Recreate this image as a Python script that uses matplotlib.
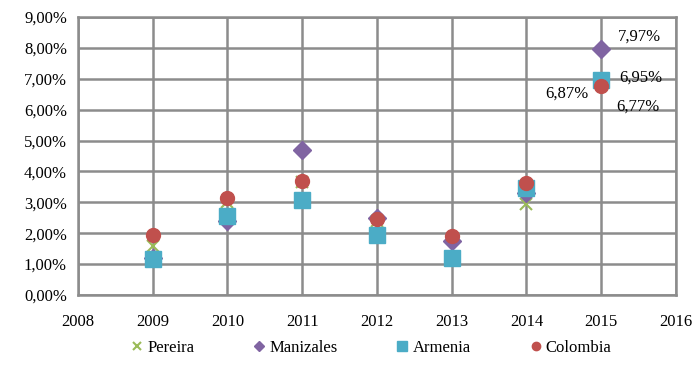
import matplotlib
matplotlib.use("Agg")
import matplotlib.pyplot as plt
from matplotlib.ticker import FuncFormatter

years = [2009, 2010, 2011, 2012, 2013, 2014, 2015]
pereira = [1.60, 3.00, 3.65, 2.40, 1.15, 2.95, 6.87]
manizales = [1.20, 2.40, 4.70, 2.50, 1.75, 3.30, 7.97]
armenia = [1.15, 2.55, 3.08, 1.95, 1.20, 3.45, 6.95]
colombia = [1.95, 3.15, 3.70, 2.45, 1.90, 3.62, 6.77]
labels_2015 = ["6,87%", "7,97%", "6,95%", "6,77%"]

plt.rcParams['font.family'] = ['Liberation Serif', 'DejaVu Serif']
fs = 12

fig = plt.figure(figsize=(6.94, 3.75), dpi=100)
ax = fig.add_axes([0.1124, 0.2133, 0.8616, 0.7414])

grid_c = '#8c8c8c'
ax.plot(years, pereira, linestyle='none', marker='x', color='#9BBB59', ms=9, mew=1.5, label='Pereira', zorder=3)
ax.plot(years, manizales, linestyle='none', marker='D', color='#8064A2', ms=9, label='Manizales', zorder=4)
ax.plot(years, armenia, linestyle='none', marker='s', color='#4BACC6', ms=12, label='Armenia', zorder=5)
ax.plot(years, colombia, linestyle='none', marker='o', color='#C0504D', ms=10, label='Colombia', zorder=6)

ax.set_xlim(2008, 2016)
ax.set_ylim(0, 9)
ax.set_xticks(range(2008, 2017))
ax.set_yticks([i for i in range(10)])
ax.yaxis.set_major_formatter(FuncFormatter(lambda v, p: f"{v:.2f}%".replace('.', ',')))
ax.grid(True, color=grid_c, linewidth=1.8, zorder=0)
ax.set_axisbelow(True)
for s in ax.spines.values():
    s.set_color(grid_c)
    s.set_linewidth(1.8)
ax.tick_params(axis='y', length=0, labelsize=fs, pad=8)
ax.tick_params(axis='x', length=0, labelsize=fs, pad=14)

x15 = years[-1]
ax.annotate(labels_2015[0], (x15, pereira[-1]), xytext=(-40, -11), textcoords='offset points', fontsize=fs)
ax.annotate(labels_2015[1], (x15, manizales[-1]), xytext=(12, 6), textcoords='offset points', fontsize=fs)
ax.annotate(labels_2015[2], (x15, armenia[-1]), xytext=(13, -1), textcoords='offset points', fontsize=fs)
ax.annotate(labels_2015[3], (x15, colombia[-1]), xytext=(11, -18), textcoords='offset points', fontsize=fs)

leg = fig.legend(loc='lower center', bbox_to_anchor=(0.532, 0.01), ncol=4, frameon=False,
                 fontsize=fs, columnspacing=3.3, handletextpad=0.0, handlelength=1.2, markerscale=0.6)

fig.savefig('out.png', dpi=100)
